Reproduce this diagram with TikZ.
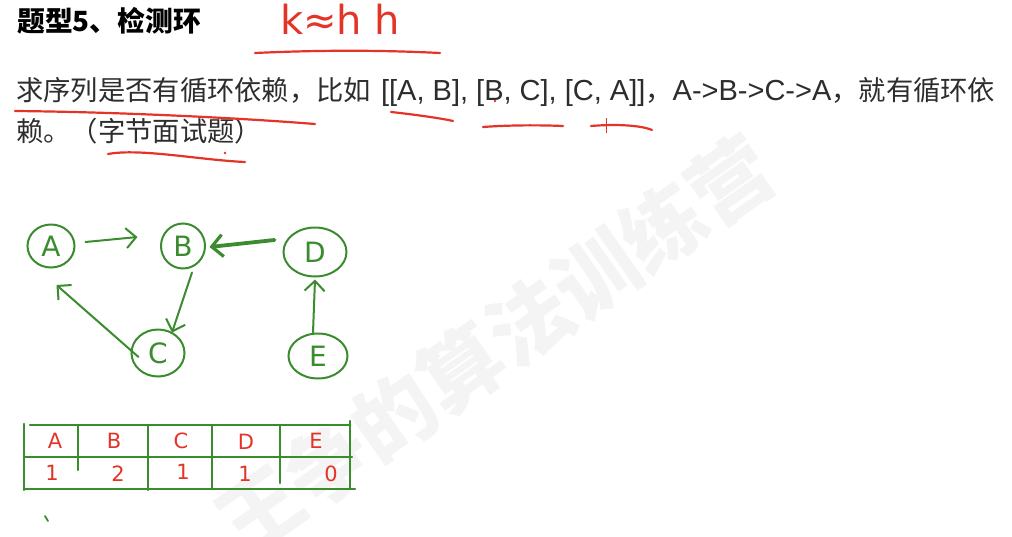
\documentclass[tikz,border=0pt]{standalone}
\usepackage{fontspec}
\setmainfont{Noto Sans CJK SC}
\newfontfamily\cjk{Noto Sans CJK SC}
\newfontfamily\lat{Liberation Sans}
\newfontfamily\hand{DejaVu Sans}
\usetikzlibrary{arrows.meta,shapes.geometric}
\definecolor{gr}{RGB}{58,140,46}
\definecolor{rd}{RGB}{228,52,40}
\definecolor{txt}{RGB}{45,45,45}
\definecolor{wm}{RGB}{244,244,244}
\tikzset{
  vtx/.style={circle, draw=gr, line width=2pt, minimum size=44pt, inner sep=0pt, text=gr, font=\hand\fontsize{28}{28}\selectfont},
  garrow/.style={draw=gr, line width=2pt, line cap=round, -{Straight Barb[length=10pt,width=20pt,line width=2pt]}},
  gline/.style={draw=gr, line width=2.4pt, line cap=round},
  rline/.style={draw=rd, line width=2.2pt, line cap=round},
  cell/.style={text=rd, font=\hand\fontsize{21}{21}\selectfont, inner sep=0pt},
}
\begin{document}
\begin{tikzpicture}[x=1pt,y=-1pt]
\useasboundingbox[fill=white] (0,0) rectangle (1012,536);
% watermark
\node[text=wm, rotate=35, font=\cjk\bfseries\fontsize{82}{82}\selectfont] (wm) at (495,345) {王争的算法训练营};
% title
\node[anchor=west, text=black, font=\bfseries\fontsize{27.8}{27.8}\selectfont, inner sep=0pt] (title) at (17,21) {题型5、检测环};
\node[anchor=base west, text=rd, font=\hand\fontsize{40}{40}\selectfont, inner sep=0pt] (kh) at (280,34) {k≈h h};
\coordinate (u1) at (255,53); \coordinate (u2) at (440,53);
\draw[rline] (u1) .. controls (320,50) and (380,50) .. (u2);
% text
\node[anchor=west, text=txt, font=\fontsize{27.3}{27.3}\selectfont, inner sep=0pt] (l1) at (16,92) {求序列是否有循环依赖，比如\hspace{10pt}{\lat\fontsize{29}{29}\selectfont [[A, B], [B, C], [C, A]]}，{\lat\fontsize{29}{29}\selectfont A->B->C->A}，就有循环依};
\node[anchor=west, text=txt, font=\fontsize{27.3}{27.3}\selectfont, inner sep=0pt] (l2) at (16,131) {赖。（字节面试题）};
% red annotations
\draw[rline] (15,111) .. controls (120,112) and (240,118) .. (315,124);
\draw[rline] (391,112) .. controls (410,114) and (440,118) .. (453,121);
\draw[rline] (483,127) .. controls (510,125) and (540,125) .. (563,126);
\draw[rline] (591,126) .. controls (615,124) and (640,125) .. (652,130);
\draw[draw=rd, line width=1pt] (606,118) -- (606,133) (598,125) -- (614,125);
\draw[rline] (108,154) .. controls (140,148) and (200,160) .. (245,162);
\fill[rd] (225,153) circle (1.3pt);
\fill[rd] (495,101) circle (1.3pt);
% graph
\node[vtx, minimum width=47pt, minimum height=43pt, ellipse] (A) at (51,246) {A};
\node[vtx, minimum width=44pt, minimum height=45pt, ellipse] (B) at (183,246) {B};
\node[vtx, minimum width=63pt, minimum height=49pt, ellipse] (D) at (315,252) {D};
\node[vtx, minimum width=53pt, minimum height=47pt, ellipse] (C) at (158,353) {C};
\node[vtx, minimum width=59pt, minimum height=45pt, ellipse] (E) at (318,356) {E};
\draw[garrow] (A.east) ++(10,-4) -- ++(52,-5);
\draw[garrow] (B.south) ++(9,3) -- ++(-20,60);
\draw[garrow] (C.west) ++(8,4) -- ++(-82,-72);
\draw[garrow] (E.north) ++(-5,0) -- ++(2,-53);
\draw[draw=gr, line width=3.8pt, line cap=round, -{Straight Barb[length=11pt,width=22pt,line width=3.2pt]}] (D.west) ++(-8,-12) -- ++(-65,7);
% table
\draw[gline] (30,425) -- (350,425);
\draw[gline] (24,457) -- (352,457);
\draw[gline] (24,489) -- (355,489);
\draw[gline] (24,424) -- (24,490);
\draw[gline] (78,426) -- (78,470);
\draw[gline] (148,426) -- (148,490);
\draw[gline] (212,426) -- (212,489);
\draw[gline] (280,426) -- (280,483);
\draw[gline] (350,421) -- (350,489);
\node[cell] (hA) at (55,441) {A};
\node[cell] (hB) at (114,441) {B};
\node[cell] (hC) at (181,441) {C};
\node[cell] (hD) at (246,442) {D};
\node[cell] (hE) at (316,441) {E};
\node[cell] (vA) at (52,473) {1};
\node[cell] (vB) at (118,474) {2};
\node[cell] (vC) at (183,472) {1};
\node[cell] (vD) at (245,474) {1};
\node[cell] (vE) at (331,474) {0};
\draw[draw=gr, line width=1.8pt, line cap=round] (45,516) -- (48,521);
\end{tikzpicture}
\end{document}
